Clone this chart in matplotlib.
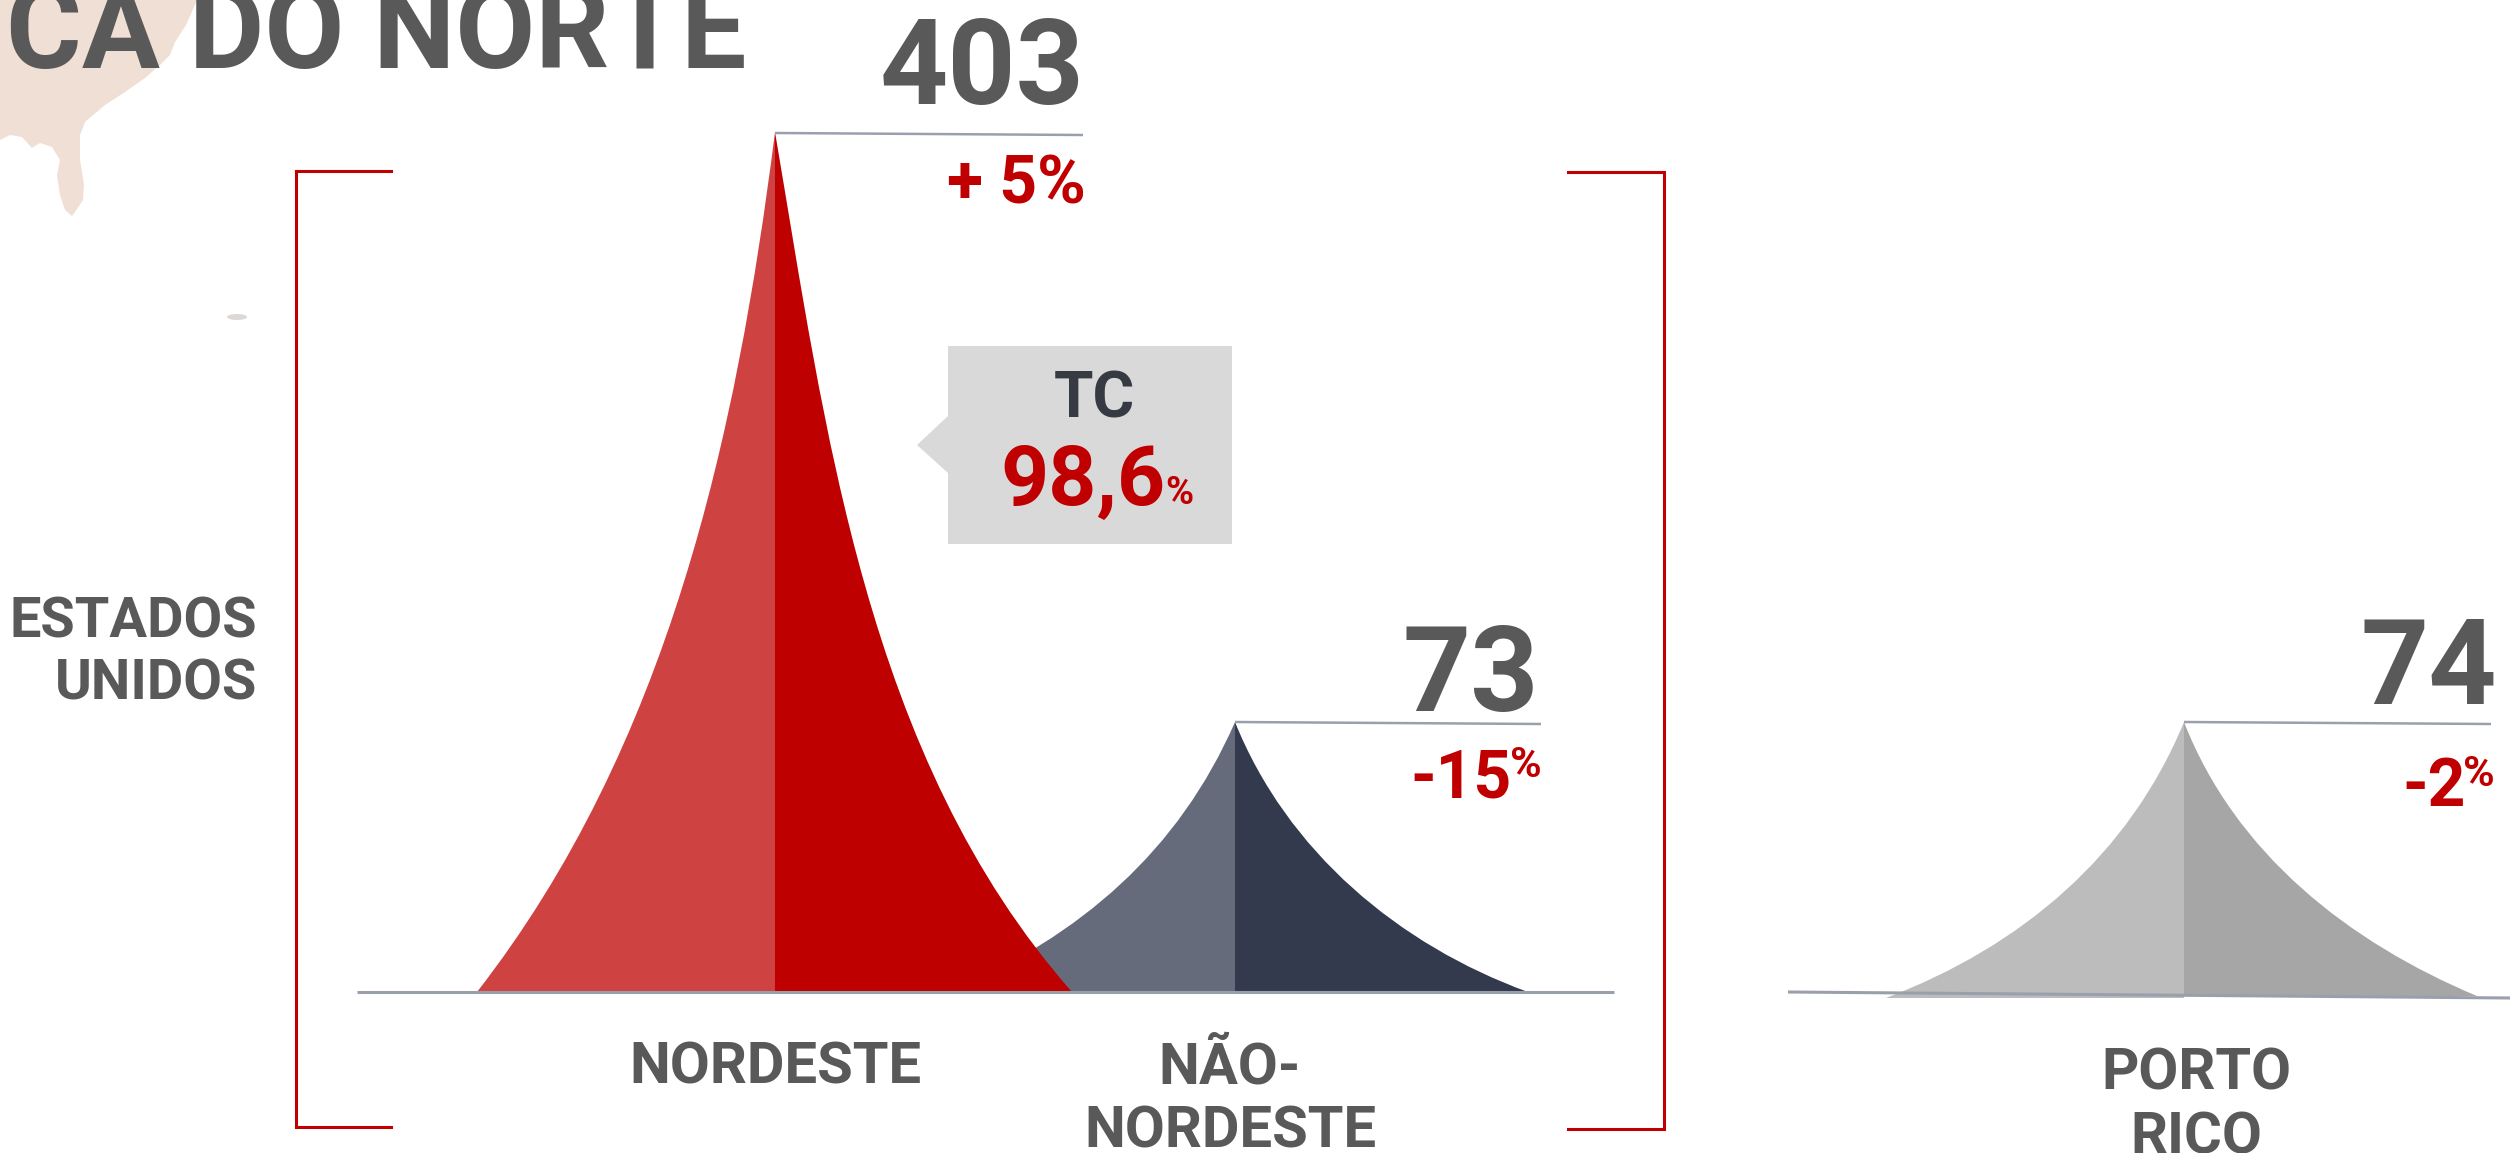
"""
Tendas de valores por região (América do Norte), eixo em pixels da figura.
"""

import numpy as np
import matplotlib
matplotlib.use("Agg")
import matplotlib.pyplot as plt
from matplotlib.path import Path
from matplotlib.patches import PathPatch, Polygon, Ellipse

# valores do gráfico
regioes = ["NORDESTE", "NÃO-\nNORDESTE", "PORTO\nRICO"]
valores = ["403", "73", "74"]
variacoes = ["+ 5", "-15", "-2"]
tc_valor = "98,6"

# contornos (x, y) do pico até a base
nord_esq_x = [775, 764, 751, 733, 709, 679, 649, 613, 572, 528, 477]
nord_esq_y = [132, 187, 288, 395, 502, 597, 682, 766, 845, 923, 992]
nord_dir_x = [775, 785, 797, 814, 834, 862, 898, 938, 982, 1030, 1072]
nord_dir_y = [132, 187, 272, 367, 463, 569, 682, 783, 872, 946, 992]

nao_esq_x = [1235, 1226, 1216, 1199, 1176, 1146, 1113, 1073, 1037, 1000, 950]
nao_esq_y = [722, 728, 755, 790, 825, 860, 892, 923, 947, 966, 992]
nao_dir_x = [1235, 1244, 1259, 1282, 1312, 1352, 1395, 1441, 1484, 1528]
nao_dir_y = [722, 738, 770, 810, 848, 887, 922, 952, 973, 992]

pr_esq_x = [2184, 2175, 2160, 2142, 2113, 2077, 2031, 1979, 1932, 1901, 1886]
pr_esq_y = [722, 732, 769, 801, 842, 882, 919, 953, 977, 992, 998]
pr_dir_x = [2184, 2193, 2209, 2227, 2255, 2294, 2340, 2392, 2439, 2477]
pr_dir_y = [722, 741, 773, 803, 842, 882, 919, 953, 979, 996]

# pedaço do mapa atrás do título
mapa_x = [197, 186, 175, 170, 160, 145, 125, 105, 85, 80, 80, 84, 83, 75, 72, 65, 60, 57, 60, 52, 40, 32, 22, 10, 0, 0]
mapa_y = [0, 25, 42, 55, 65, 78, 92, 105, 122, 135, 160, 185, 200, 212, 216, 210, 195, 175, 160, 147, 143, 148, 137, 135, 140, 0]

CINZA_TXT = "#595959"
VERMELHO = "#C00000"
LINHA = "#9AA0AB"
FONTE = "Roboto"


def ajusta_bezier(xs, ys, iteracoes=8):
    """Ajusta uma cúbica de Bézier aos pontos lidos, com as pontas fixas."""
    pts = np.column_stack([xs, ys]).astype(float)
    d = np.r_[0, np.cumsum(np.hypot(*np.diff(pts, axis=0).T))]
    t = d / d[-1]
    denso = np.linspace(0, 1, 500)
    for _ in range(iteracoes):
        b1 = 3 * t * (1 - t) ** 2
        b2 = 3 * t ** 2 * (1 - t)
        resto = pts - np.outer((1 - t) ** 3, pts[0]) - np.outer(t ** 3, pts[-1])
        ctrl, *_ = np.linalg.lstsq(np.column_stack([b1, b2]), resto, rcond=None)
        # reprojeta cada ponto na curva atual
        curva = (np.outer((1 - denso) ** 3, pts[0]) + np.outer(3 * denso * (1 - denso) ** 2, ctrl[0])
                 + np.outer(3 * denso ** 2 * (1 - denso), ctrl[1]) + np.outer(denso ** 3, pts[-1]))
        dist = ((pts[:, None, :] - curva[None, :, :]) ** 2).sum(axis=2)
        t = denso[dist.argmin(axis=1)]
        t[0], t[-1] = 0, 1
    return ctrl


def meia_tenda(ax, xs, ys, cor):
    """Desenha metade de uma tenda, fechando no eixo central."""
    c = ajusta_bezier(xs, ys)
    verts = [(xs[0], ys[0]), tuple(c[0]), tuple(c[1]), (xs[-1], ys[-1]),
             (xs[0], ys[-1]), (xs[0], ys[0])]
    codes = [Path.MOVETO, Path.CURVE4, Path.CURVE4, Path.CURVE4, Path.LINETO, Path.CLOSEPOLY]
    ax.add_patch(PathPatch(Path(verts, codes), facecolor=cor, edgecolor="none"))


def texto(ax, x, y, s, px, cor=CINZA_TXT, ha="center", weight="bold"):
    """Texto com tamanho em pixels e y na linha de base."""
    ax.text(x, y, s, fontsize=px * 0.72, color=cor, ha=ha, va="baseline",
            family=FONTE, weight=weight)


fig = plt.figure(figsize=(25.1, 11.53), dpi=100)
ax = fig.add_axes([0, 0, 1, 1])
ax.set_xlim(0, 2510)
ax.set_ylim(1153, 0)
ax.axis("off")

# mapa e título
ax.add_patch(Polygon(list(zip(mapa_x, mapa_y)), closed=True, facecolor="#F0DFD4", edgecolor="none"))
ax.add_patch(Ellipse((237, 317), 20, 6, facecolor="#DDD8D4", edgecolor="none"))
texto(ax, 746, 68, "AMÉRICA DO NORTE", 116, ha="right")

# tendas
meia_tenda(ax, nao_esq_x, nao_esq_y, "#666B7C")
meia_tenda(ax, nao_dir_x, nao_dir_y, "#343A4E")
meia_tenda(ax, nord_esq_x, nord_esq_y, "#CE4242")
meia_tenda(ax, nord_dir_x, nord_dir_y, "#BE0000")
meia_tenda(ax, pr_esq_x, pr_esq_y, "#BCBCBC")
meia_tenda(ax, pr_dir_x, pr_dir_y, "#A6A6A6")

# eixos de base e linhas dos picos
ax.plot([357, 1614], [992, 992], color=LINHA, lw=2.2, solid_capstyle="butt")
ax.plot([1788, 2510], [992, 998], color=LINHA, lw=2.2, solid_capstyle="butt")
ax.plot([775, 1083], [133, 135], color=LINHA, lw=1.8, solid_capstyle="butt")
ax.plot([1235, 1541], [722, 724], color=LINHA, lw=1.8, solid_capstyle="butt")
ax.plot([2184, 2491], [722, 724], color=LINHA, lw=1.8, solid_capstyle="butt")

# colchetes dos Estados Unidos
ax.plot([391, 296, 296, 391], [171, 171, 1127, 1127], color=VERMELHO, lw=2.2, solid_joinstyle="miter")
ax.plot([1568, 1664, 1664, 1568], [172, 172, 1129, 1129], color=VERMELHO, lw=2.2, solid_joinstyle="miter")

# caixa TC
ax.add_patch(Polygon([(948, 346), (1232, 346), (1232, 544), (948, 544), (948, 473), (917, 445), (948, 416)],
                     closed=True, facecolor="#D9D9D9", edgecolor="none"))
texto(ax, 1094, 418, "TC", 64, cor="#363A42")
texto(ax, 1165, 504, tc_valor, 84, cor=VERMELHO, ha="right")
texto(ax, 1193, 504, "%", 38, cor=VERMELHO, ha="right")

# valores
texto(ax, 1085, 104, valores[0], 119, ha="right")
texto(ax, 1539, 711, valores[1], 119, ha="right")
texto(ax, 2497, 704, valores[2], 119, ha="right")

# variações
texto(ax, 1086, 204, variacoes[0] + "%", 66, cor=VERMELHO, ha="right")
texto(ax, 1512, 797, variacoes[1], 66, cor=VERMELHO, ha="right")
texto(ax, 1542, 777, "%", 43, cor=VERMELHO, ha="right")
texto(ax, 2466, 806, variacoes[2], 66, cor=VERMELHO, ha="right")
texto(ax, 2495, 786, "%", 43, cor=VERMELHO, ha="right")

# rótulos
texto(ax, 257, 638, "ESTADOS", 56, ha="right")
texto(ax, 257, 700, "UNIDOS", 56, ha="right")
texto(ax, 775, 1084, regioes[0], 58)
for linha, y in zip(regioes[1].split("\n"), [1084, 1148]):
    texto(ax, 1230, y, linha, 58)
for linha, y in zip(regioes[2].split("\n"), [1090, 1153]):
    texto(ax, 2196, y, linha, 58)

fig.savefig("out.png", dpi=100, facecolor="white")
